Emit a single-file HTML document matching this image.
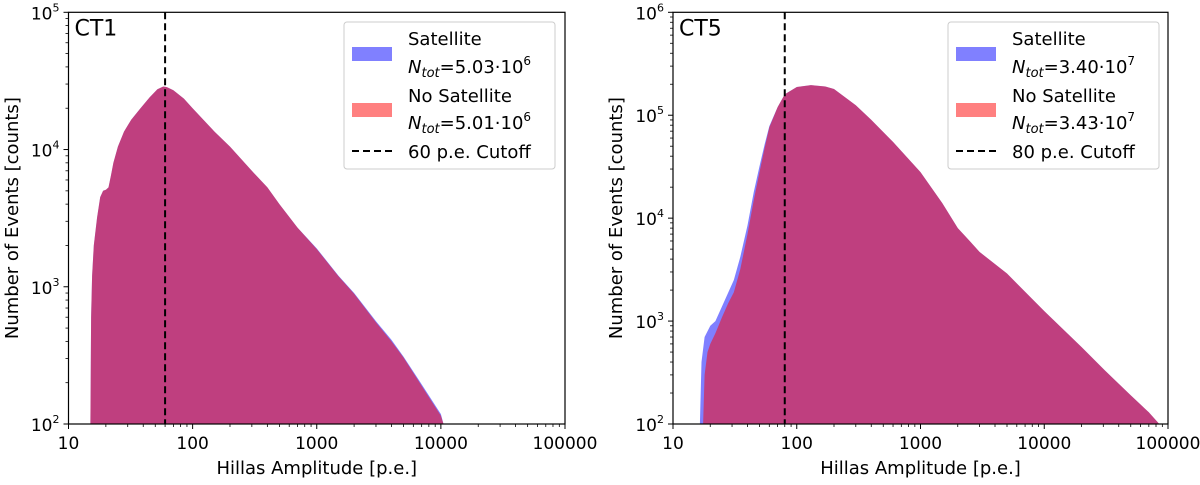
<!DOCTYPE html>
<html><head><meta charset="utf-8"><style>
body{margin:0;background:#fff;}
svg text{font-family:"DejaVu Sans","Liberation Sans",sans-serif;fill:#000;}
</style></head><body>
<svg id="chart" width="1200" height="480" viewBox="0 0 1200 480" xmlns="http://www.w3.org/2000/svg"></svg>
<script>
// CT1 data (amplitude p.e., counts)
const ct1SatX = [15,15.2,15.5,16,17,18,19,20,21,22,23,25,28,32,38,45,52,58,62,70,85,100,150,200,300,400,500,700,1000,1500,2000,3000,4000,5000,7000,10000,10500];
const ct1SatY = [100,600,1200,2000,3200,4500,5000,5100,5300,6500,8000,10500,13500,16500,20000,24000,27500,28800,28500,27000,23500,20000,13500,10500,7000,5300,4000,2700,1900,1200,900,560,410,310,195,118,100];
const ct1NoX = [15,15.2,15.5,16,17,18,19,20,21,22,23,25,28,32,38,45,52,58,62,70,85,100,150,200,300,400,500,700,1000,1500,2000,3000,4000,5000,7000,10000,10500];
const ct1NoY = [100,600,1200,2000,3200,4500,5000,5100,5300,6500,8000,10500,13500,16500,20000,24000,27500,28800,28500,27000,23500,20000,13500,10500,7000,5300,4000,2700,1880,1190,890,550,400,305,190,115,100];
// CT5 data
const ct5SatX = [16.5,17,18,20,22,25,28,31,35,40,45,50,55,60,70,80,100,130,170,200,300,400,600,1000,1500,2000,2500,3000,5000,10000,20000,31000,50000,70000,85000];
const ct5SatY = [100,400,700,900,1000,1400,1900,2500,4200,8500,18000,32000,52000,78000,120000,160000,188000,196000,190000,180000,125000,90000,55000,28000,14000,8000,6000,4700,2900,1250,560,330,190,130,100];
const ct5NoX = [17.5,18,19,20,22,25,28,31,35,40,45,50,55,60,70,80,100,130,170,200,300,400,600,1000,1500,2000,2500,3000,5000,10000,20000,31000,50000,70000,85000];
const ct5NoY = [100,300,500,600,760,1100,1500,1900,3200,7000,15000,28000,48000,76000,120000,160000,188000,196000,190000,180000,125000,90000,55000,28000,14000,8000,6000,4700,2900,1250,560,330,190,130,100];

const NS="http://www.w3.org/2000/svg";
const svg=document.getElementById('chart');
function el(tag,attrs,parent){const e=document.createElementNS(NS,tag);for(const k in attrs)e.setAttribute(k,attrs[k]);(parent||svg).appendChild(e);return e;}

function panel(cfg){
  const g=el('g',{});
  
  
  const {x0,x1,y0,y1,ymin,ymax}=cfg;
  const sx=v=>x0+(Math.log10(v)-1)/4*(x1-x0);
  const sy=v=>y1-(Math.log10(v)-ymin)/(ymax-ymin)*(y1-y0);
  function area(xs,ys,color,nm){
    let d='M'+sx(xs[0])+','+y1;
    for(let i=0;i<xs.length;i++){d+=' L'+sx(xs[i]).toFixed(1)+','+sy(ys[i]).toFixed(1);}
    d+=' L'+sx(xs[xs.length-1]).toFixed(1)+','+y1+' Z';
    const p=el('path',{d:d,fill:color,'fill-opacity':0.5,'stroke-linejoin':'round'},g);
    
    
  }
  area(cfg.sx,cfg.sy,'#0000ff','satellite-histogram');
  area(cfg.nx,cfg.ny,'#ff0000','no-satellite-histogram');
  const cl=el('line',{x1:sx(cfg.cut),x2:sx(cfg.cut),y1:y0,y2:y1,stroke:'#000','stroke-width':2,'stroke-dasharray':'7,4'},g);
  
  
  el('rect',{x:x0,y:y0,width:x1-x0,height:y1-y0,fill:'none',stroke:'#000','stroke-width':1.2},g);
  const xl=['10','100','1000','10000','100000'];
  for(let d=1;d<=5;d++){
    const v=Math.pow(10,d);
    el('line',{x1:sx(v),x2:sx(v),y1:y1,y2:y1+5,stroke:'#000'},g);
    const t=el('text',{x:sx(v),y:y1+25,'text-anchor':'middle','font-size':17},g);
    t.textContent=xl[d-1];
    
    
    if(d<5)for(let m=2;m<10;m++){const xv=sx(m*v);el('line',{x1:xv,x2:xv,y1:y1,y2:y1+3,stroke:'#000','stroke-width':0.8},g);}
  }
  for(let d=ymin;d<=ymax;d++){
    const yv=sy(Math.pow(10,d));
    el('line',{x1:x0-5,x2:x0,y1:yv,y2:yv,stroke:'#000'},g);
    const t=el('text',{x:x0-9,y:yv+7,'text-anchor':'end','font-size':17},g);
    t.textContent='10';
    const s=el('tspan',{dy:-8,'font-size':11},t);s.textContent=String(d);
    
    
    if(d<ymax)for(let m=2;m<10;m++){const y=sy(m*Math.pow(10,d));el('line',{x1:x0-3,x2:x0,y1:y,y2:y,stroke:'#000','stroke-width':0.8},g);}
  }
  const xt=el('text',{x:(x0+x1)/2,y:474,'text-anchor':'middle','font-size':18},g);
  xt.textContent='Hillas Amplitude [p.e.]';
  
  
  const yt=el('text',{x:0,y:0,'text-anchor':'middle','font-size':18,transform:`translate(${cfg.ytx},${(y0+y1)/2}) rotate(-90)`},g);
  yt.textContent='Number of Events [counts]';
  
  
  const tt=el('text',{x:x0+6,y:y0+23,'font-size':22},g);
  tt.textContent=cfg.title;
  
  
  const lx=cfg.lx,ly=22;
  const lg=el('g',{},g);
  
  
  el('rect',{x:lx,y:ly,width:211,height:147,rx:3,fill:'#fff','fill-opacity':0.8,stroke:'#ccc'},lg);
  el('rect',{x:lx+8,y:ly+25,width:40,height:14,fill:'#8080ff'},lg);
  el('rect',{x:lx+8,y:ly+81,width:40,height:14,fill:'#ff8080'},lg);
  el('line',{x1:lx+8,x2:lx+48,y1:ly+129,y2:ly+129,stroke:'#000','stroke-width':2,'stroke-dasharray':'7,4'},lg);
  function lt(y,txt){const t=el('text',{x:lx+64,y:y,'font-size':18},lg);t.textContent=txt;return t;}
  lt(ly+23,'Satellite');
  const n1=lt(ly+51,'');n1.innerHTML='<tspan font-style="italic">N</tspan><tspan font-style="italic" font-size="13" dy="4">tot</tspan><tspan dy="-4">='+cfg.n1+'·10</tspan><tspan font-size="12" dy="-8">'+cfg.e+'</tspan>';
  lt(ly+80,'No Satellite');
  const n2=lt(ly+107,'');n2.innerHTML='<tspan font-style="italic">N</tspan><tspan font-style="italic" font-size="13" dy="4">tot</tspan><tspan dy="-4">='+cfg.n2+'·10</tspan><tspan font-size="12" dy="-8">'+cfg.e+'</tspan>';
  lt(ly+136,cfg.cut+' p.e. Cutoff');
}
panel({name:'ct1-panel',x0:68.5,x1:565,y0:12.3,y1:424,ymin:2,ymax:5,sx:ct1SatX,sy:ct1SatY,nx:ct1NoX,ny:ct1NoY,cut:60,title:'CT1',lx:344,n1:'5.03',n2:'5.01',e:'6',ytx:18});
panel({name:'ct5-panel',x0:673,x1:1168,y0:12.3,y1:424,ymin:2,ymax:6,sx:ct5SatX,sy:ct5SatY,nx:ct5NoX,ny:ct5NoY,cut:80,title:'CT5',lx:948,n1:'3.40',n2:'3.43',e:'7',ytx:622});
</script>
</body></html>
